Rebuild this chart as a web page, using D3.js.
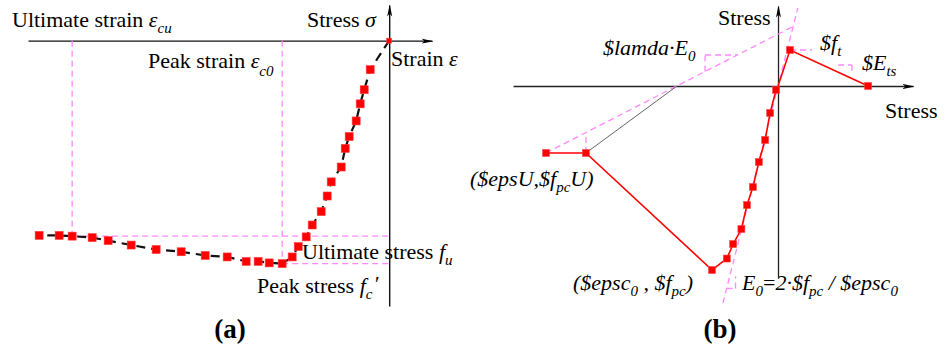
<!DOCTYPE html>
<html>
<head>
<meta charset="utf-8">
<script src="https://cdn.jsdelivr.net/npm/d3@7"></script>
<style>
  html, body { margin: 0; padding: 0; background: #fff; }
  svg { display: block; }
  text { font-family: "Liberation Serif", "Times New Roman", serif; fill: #000; }
</style>
</head>
<body>
<svg id="chart" width="945" height="356"></svg>
<script>
// ---- (a) uniaxial concrete stress-strain curve (strain in ‰, stress in MPa) ----
const strainA = [0, -0.355, -0.467, -0.542, -0.617, -0.748, -0.822, -0.897, -1.084, -1.159,
  -1.271, -1.439, -1.551, -1.70, -1.813, -2.0, -2.243, -2.449, -2.673, -3.028,
  -3.439, -3.888, -4.355, -4.822, -5.252, -5.551, -5.925, -6.168, -6.542];
const stressA = [0, -3.9, -6.6, -8.5, -10.8, -12.9, -14.5, -17.0, -19.0, -20.9,
  -23.0, -24.8, -26.4, -27.7, -29.1, -30.0, -29.9, -29.7, -29.7, -29.1,
  -28.9, -28.4, -28.1, -27.5, -26.9, -26.5, -26.3, -26.2, -26.2];
const epsC0 = -2.0, fcPeak = -30.0, epsCu = -5.925, fUlt = -26.3;

// ---- (b) Concrete02-style envelope (tension softening + compression) ----
const strainB = [2.73, 0.364, 0, -0.06, -0.24, -0.39, -0.58, -0.76, -0.94, -1.11,
  -1.36, -1.55, -2.0, -5.82, -7.03];
const stressB = [0, 5.87, 0, -0.65, -4.40, -8.80, -12.39, -16.47, -19.40, -23.32,
  -25.77, -28.13, -30.0, -10.92, -10.92];
const markedB = [true, true, false, true, true, true, true, true, true, true,
  true, true, true, true, true];
const epsc0 = -2.0, fpc = -30.0, epsU = -5.82, fpcU = -10.92, ft = 5.87;
const E0slope = 21.2;        // initial tangent, MPa per ‰
const lambdaE0 = 2.755;      // reload/unload slope through (epsU, fpcU)
const unloadZero = -3.06;    // strain where the unloading line reaches zero stress

const svg = d3.select("#chart");
const pink = "#ff88ff";
const red = "#ff0000";

// arrowheads
const defs = svg.append("defs");
defs.append("marker").attr("id", "arrow")
  .attr("viewBox", "0 0 12 8").attr("refX", 11).attr("refY", 4)
  .attr("markerWidth", 12).attr("markerHeight", 8)
  .attr("markerUnits", "userSpaceOnUse").attr("orient", "auto")
  .append("path").attr("d", "M0,1.5 L12,4 L0,6.5 L3,4 Z").attr("fill", "#000");

// ================= panel (a) =================
const xA = d3.scaleLinear().domain([-6.75, 0.8]).range([28, 432]);
const yA = d3.scaleLinear().domain([4.8, -35.7]).range([5, 306]);
const gA = svg.append("g");

// axes (no ticks)
const axAx = gA.append("g").attr("transform", `translate(0,${yA(0)})`)
  .call(d3.axisBottom(xA).tickValues([]).tickSizeOuter(0));
axAx.select(".domain").attr("stroke", "#111").attr("stroke-width", 1.4).attr("marker-end", "url(#arrow)");
const axAy = gA.append("g").attr("transform", `translate(${xA(0)},0)`)
  .call(d3.axisLeft(yA.copy().domain([-35.7, 4.8]).range([306, 5])).tickValues([]).tickSizeOuter(0));
axAy.select(".domain").attr("stroke", "#111").attr("stroke-width", 1.4).attr("marker-end", "url(#arrow)");

// guide lines
const guide = (g, x1, y1, x2, y2) => g.append("line")
  .attr("x1", x1).attr("y1", y1).attr("x2", x2).attr("y2", y2)
  .attr("stroke", pink).attr("stroke-width", 1.3).attr("stroke-dasharray", "6,4");
guide(gA, xA(epsCu), yA(0), xA(epsCu), yA(fUlt));
guide(gA, xA(epsCu), yA(fUlt), xA(0), yA(fUlt));
guide(gA, xA(epsC0), yA(0), xA(epsC0), yA(fcPeak));
guide(gA, xA(epsC0), yA(fcPeak), xA(0), yA(fcPeak));

const ptsA = strainA.map((s, i) => [s, stressA[i]]);
gA.append("path").datum(ptsA)
  .attr("d", d3.line().x(d => xA(d[0])).y(d => yA(d[1])))
  .attr("fill", "none").attr("stroke", "#111").attr("stroke-width", 2.2)
  .attr("stroke-dasharray", "9,6");
gA.selectAll("rect.pt").data(ptsA).join("rect").attr("class", "pt")
  .attr("x", (d, i) => xA(d[0]) - (i === 0 ? 2.5 : 4))
  .attr("y", (d, i) => yA(d[1]) - (i === 0 ? 2.5 : 4))
  .attr("width", (d, i) => i === 0 ? 5 : 8).attr("height", (d, i) => i === 0 ? 5 : 8)
  .attr("fill", red).attr("stroke", "#ff4040").attr("stroke-width", 0.6);

// ================= panel (b) =================
const xB = d3.scaleLinear().domain([-8.03, 4.09]).range([513, 913]);
const yB = d3.scaleLinear().domain([13.04, -31.14]).range([6, 277]);
const gB = svg.append("g");

const axBx = gB.append("g").attr("transform", `translate(0,${yB(0)})`)
  .call(d3.axisBottom(xB).tickValues([]).tickSizeOuter(0));
axBx.select(".domain").attr("stroke", "#222").attr("stroke-width", 1.3).attr("marker-end", "url(#arrow)");
const axBy = gB.append("g").attr("transform", `translate(${xB(0)},0)`)
  .call(d3.axisLeft(yB.copy().domain([-31.14, 13.04]).range([277, 6])).tickValues([]).tickSizeOuter(0));
axBy.select(".domain").attr("stroke", "#222").attr("stroke-width", 1.3).attr("marker-end", "url(#arrow)");

// initial tangent E0 through the origin
const e0Lo = -1.67, e0Hi = 0.6;
guide(gB, xB(e0Lo), yB(E0slope * e0Lo), xB(e0Hi), yB(E0slope * e0Hi));
// slope marker on E0
const e0TriY = -33.0;
guide(gB, xB(e0TriY / E0slope), yB(e0TriY), xB(e0TriY / E0slope + 0.27), yB(e0TriY));
guide(gB, xB(e0TriY / E0slope + 0.27), yB(e0TriY), xB(e0TriY / E0slope + 0.27), yB(-31.0));

// lambda*E0 line from the ultimate point
const lamAt = s => fpcU + lambdaE0 * (s - (-7.03));
guide(gB, xB(-7.03), yB(fpcU), xB(0.515), yB(lamAt(0.515)));
guide(gB, xB(epsU), yB(fpcU), xB(epsU), yB(lamAt(epsU)));
// slope marker on lambda*E0
const lamX1 = -2.21, lamY2 = 5.05;
const lamX2 = -7.03 + (lamY2 - fpcU) / lambdaE0;
guide(gB, xB(lamX1), yB(lamAt(lamX1)), xB(lamX1), yB(lamY2));
guide(gB, xB(lamX1), yB(lamY2), xB(lamX2), yB(lamY2));

// tensile strength level and softening slope marker
guide(gB, xB(strainB[1]), yB(ft), xB(1.03), yB(ft));
guide(gB, xB(1.82), yB(3.42), xB(2.24), yB(3.42));
guide(gB, xB(2.24), yB(3.42), xB(2.24), yB(2.28));

// unloading line
gB.append("line")
  .attr("x1", xB(epsU)).attr("y1", yB(fpcU)).attr("x2", xB(unloadZero)).attr("y2", yB(0))
  .attr("stroke", "#666").attr("stroke-width", 1);

const ptsB = strainB.map((s, i) => [s, stressB[i], markedB[i]]);
gB.append("path").datum(ptsB)
  .attr("d", d3.line().x(d => xB(d[0])).y(d => yB(d[1])))
  .attr("fill", "none").attr("stroke", red).attr("stroke-width", 1.6);
gB.selectAll("rect.pt").data(ptsB.filter(d => d[2])).join("rect").attr("class", "pt")
  .attr("x", d => xB(d[0]) - 3.5).attr("y", d => yB(d[1]) - 3.5)
  .attr("width", 7).attr("height", 7)
  .attr("fill", red).attr("stroke", "#ff4040").attr("stroke-width", 0.5);

// ================= labels =================
const FS = 22, SUB = 15;
function label(x, y, parts, anchor, size) {
  const t = svg.append("text").attr("x", x).attr("y", y)
    .attr("font-size", size || FS).attr("text-anchor", anchor || "start");
  parts.forEach(p => {
    const s = t.append("tspan").text(p.t);
    if (p.i) s.attr("font-style", "italic");
    if (p.b) s.attr("font-weight", "bold");
    if (p.sub) s.attr("font-size", SUB).attr("dy", p.dy != null ? p.dy : 6);
    else if (p.dy != null) s.attr("dy", p.dy);
    if (p.dx != null) s.attr("dx", p.dx);
  });
  return t;
}

// (a)
label(12, 27, [{t: "Ultimate strain "}, {t: "ε", i: 1}, {t: "cu", i: 1, sub: 1}]);
label(307, 27, [{t: "Stress "}, {t: "σ", i: 1}]);
label(391, 66, [{t: "Strain "}, {t: "ε", i: 1}]);
label(148, 68, [{t: "Peak strain "}, {t: "ε", i: 1}, {t: "c0", i: 1, sub: 1, dy: 8}]);
label(302, 259, [{t: "Ultimate stress "}, {t: "f", i: 1}, {t: "u", i: 1, sub: 1}]);
label(257, 293, [{t: "Peak stress "}, {t: "f", i: 1}, {t: "c", i: 1, sub: 1}, {t: "′", i: 1, dy: -8, dx: 1}]);
label(230, 338, [{t: "(a)", b: 1}], "middle", 27);

// (b)
label(718, 25, [{t: "Stress"}]);
label(885, 118, [{t: "Stress"}]);
label(603, 55, [{t: "$lamda·E", i: 1}, {t: "0", i: 1, sub: 1}]);
label(820, 50, [{t: "$f", i: 1}, {t: "t", i: 1, sub: 1}]);
label(862, 70, [{t: "$E", i: 1}, {t: "ts", i: 1, sub: 1}]);
label(470, 186, [{t: "($epsU,$f", i: 1}, {t: "pc", i: 1, sub: 1}, {t: "U)", i: 1, dy: -6}]);
label(573, 290, [{t: "($epsc", i: 1}, {t: "0", i: 1, sub: 1}, {t: " , $f", i: 1, dy: -6}, {t: "pc", i: 1, sub: 1}, {t: ")", i: 1, dy: -6}]);
label(742, 290, [{t: "E", i: 1}, {t: "0", i: 1, sub: 1}, {t: "=", dy: -6}, {t: "2·$f", i: 1}, {t: "pc", i: 1, sub: 1}, {t: " / $epsc", i: 1, dy: -6}, {t: "0", i: 1, sub: 1}]);
label(720, 338, [{t: "(b)", b: 1}], "middle", 27);
</script>
</body>
</html>
